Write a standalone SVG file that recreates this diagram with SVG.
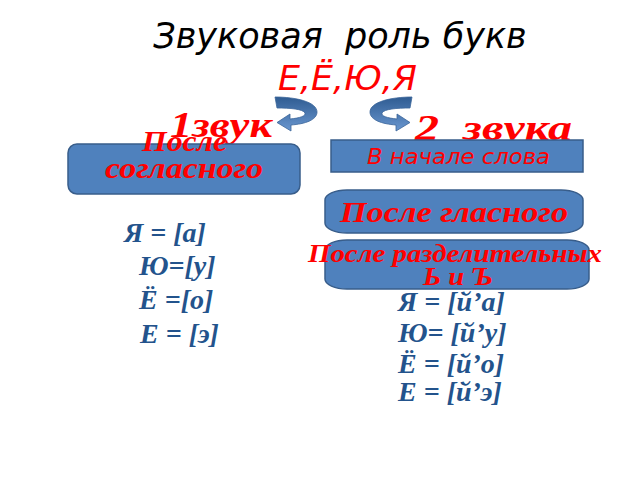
<svg xmlns="http://www.w3.org/2000/svg" width="640" height="480" viewBox="0 0 640 480">
<defs>
<linearGradient id="arrowGrad" x1="0" y1="0" x2="0" y2="1">
<stop offset="0" stop-color="#2F5C92"/>
<stop offset="1" stop-color="#6A97D0"/>
</linearGradient>
<style>
.title{font-family:"DejaVu Sans",sans-serif;font-style:italic;fill:#000}
.letters{font-family:"DejaVu Sans",sans-serif;font-style:italic;fill:#FF0000}
.red{font-family:"Liberation Serif","Times New Roman",serif;font-style:italic;font-weight:bold;fill:#FF0000}
.redsans{font-family:"DejaVu Sans",sans-serif;font-style:italic;fill:#FF0000}
.box{fill:#4F81BD;stroke:#385D8A;stroke-width:1.5}
.f{font-family:"Liberation Serif","Times New Roman",serif;font-style:italic;font-weight:bold;fill:#23538C;font-size:28px}
.arrow{fill:url(#arrowGrad);stroke:#3A6599;stroke-width:0.8}
</style>
</defs>
<rect width="640" height="480" fill="#FFFFFF"/>

<g id="title">
<text class="title" x="340" y="48" font-size="35" text-anchor="middle" xml:space="preserve">Звуковая  роль букв</text>
<text class="letters" x="278" y="90" font-size="33" textLength="139" lengthAdjust="spacingAndGlyphs">Е,Ё,Ю,Я</text>
</g>

<g id="label-1zvuk">
<text class="red" x="170" y="137" font-size="36" textLength="102" lengthAdjust="spacingAndGlyphs">1звук</text>
</g>
<g id="label-2zvuka">
<text class="red" x="415" y="140" font-size="36" textLength="157" lengthAdjust="spacingAndGlyphs" xml:space="preserve">2  звука</text>
</g>

<g id="connectors">
<path class="arrow" d="M275 97 C296 97 317 102 317 112 C317 120 305 124 291 125 L291 131 L277 122.5 L290 114 L290 119 C300 118 306 116 305 113 C303 109 290 108 277 108 Z"/>
<path class="arrow" transform="translate(687,0) scale(-1,1)" d="M275 97 C296 97 317 102 317 112 C317 120 305 124 291 125 L291 131 L277 122.5 L290 114 L290 119 C300 118 306 116 305 113 C303 109 290 108 277 108 Z"/>
</g>

<g id="node-posle-soglasnogo">
<rect class="box" x="68" y="144" width="232" height="50" rx="9" ry="9"/>
<text class="red" x="142" y="151" font-size="29" textLength="85" lengthAdjust="spacingAndGlyphs">После</text>
<text class="red" x="105" y="178" font-size="29" textLength="158" lengthAdjust="spacingAndGlyphs">согласного</text>
</g>

<g id="node-v-nachale">
<rect class="box" x="331" y="140" width="252" height="32"/>
<text class="redsans" x="367" y="164" font-size="22" textLength="183" lengthAdjust="spacingAndGlyphs">В начале слова</text>
</g>

<g id="node-posle-glasnogo">
<rect class="box" x="325" y="190" width="258" height="43" rx="22" ry="10"/>
<text class="red" x="340" y="222" font-size="30" textLength="228" lengthAdjust="spacingAndGlyphs">После гласного</text>
</g>

<g id="node-posle-razdelitelnyh">
<rect class="box" x="325" y="240" width="264" height="49" rx="22" ry="10"/>
<text class="red" x="308" y="262" font-size="26" textLength="294" lengthAdjust="spacingAndGlyphs">После разделительных</text>
<text class="red" x="423" y="285" font-size="26" textLength="70" lengthAdjust="spacingAndGlyphs">Ь и Ъ</text>
</g>

<g id="formulas-1">
<text class="f" x="124" y="242">Я = [а]</text>
<text class="f" x="139" y="275">Ю=[у]</text>
<text class="f" x="139" y="309">Ё =[о]</text>
<text class="f" x="140" y="343">Е = [э]</text>
</g>

<g id="formulas-2">
<text class="f" x="398" y="311">Я = [й’а]</text>
<text class="f" x="398" y="342">Ю= [й’у]</text>
<text class="f" x="398" y="373">Ё = [й’о]</text>
<text class="f" x="398" y="401">Е = [й’э]</text>
</g>
</svg>
